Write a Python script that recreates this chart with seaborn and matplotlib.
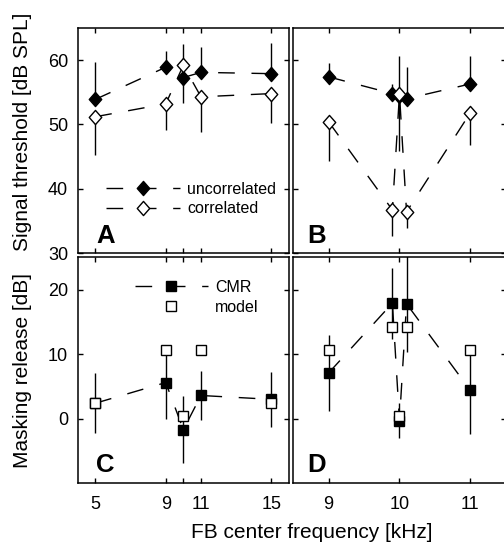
import numpy as np
import seaborn as sns
import matplotlib.pyplot as plt
from matplotlib.path import Path

# FB center frequencies [kHz]
freqs_wide = [5, 9, 10, 11, 15]       # panels A, C
freqs_narrow = [9, 9.9, 10, 10.1, 11]  # panels B, D

# signal thresholds [dB SPL], one-sided error bars (lo / hi)
uncorr_a = [53.9, 58.9, 57.3, 58.1, 57.9]
uncorr_a_lo = [0, 0, 4.0, 0, 0]
uncorr_a_hi = [5.8, 2.6, 0, 3.9, 4.8]
corr_a = [51.2, 53.2, 59.2, 54.3, 54.8]
corr_a_lo = [5.95, 4.0, 0, 5.5, 4.6]
corr_a_hi = [0, 0, 3.3, 0, 0]

uncorr_b = [57.4, 54.8, 54.4, 54.0, 56.3]
uncorr_b_lo = [0, 0, 0, 0, 0]
uncorr_b_hi = [2.2, 1.5, 6.3, 4.9, 4.4]
corr_b = [50.4, 36.7, 54.7, 36.4, 51.8]
corr_b_lo = [6.1, 4.1, 8.9, 2.45, 5.0]
corr_b_hi = [0, 0, 0, 0, 0]

# masking release [dB]
cmr_c = [2.4, 5.6, -1.7, 3.6, 3.0]
cmr_c_err = [4.65, 5.7, 5.2, 3.8, 4.3]
model_c = [2.5, 10.6, 0.4, 10.6, 2.4]

cmr_d = [7.1, 17.9, -0.3, 17.8, 4.4]
cmr_d_err = [5.9, 5.5, 2.7, 7.5, 6.8]
model_d = [10.6, 14.2, 0.4, 14.2, 10.6]

sns.set_theme(style="ticks", rc={
    "axes.edgecolor": "black",
    "axes.linewidth": 1.1,
    "text.color": "black",
    "axes.labelcolor": "black",
    "xtick.color": "black",
    "ytick.color": "black",
    "xtick.direction": "in",
    "ytick.direction": "in",
    "xtick.top": True,
    "ytick.right": True,
    "xtick.major.size": 3.6,
    "ytick.major.size": 3.6,
    "xtick.major.width": 1.0,
    "ytick.major.width": 1.0,
    "xtick.major.pad": 9,
    "ytick.major.pad": 7,
    "xtick.labelsize": 13,
    "ytick.labelsize": 13,
    "lines.scale_dashes": False,
})
plt.rcParams["font.family"] = ["Liberation Sans", "DejaVu Sans"]

DASH = (0, (12, 12))
DIAMOND = Path([(0, 1), (0.88, 0), (0, -1), (-0.88, 0), (0, 1)], closed=True)


def draw_series(ax, x, y, lo, hi, marker, ms, face, label=None, line=True, z=3):
    """Error bars, dashed connecting line and markers for one series."""
    x = np.asarray(x)
    y = np.asarray(y)
    if lo is not None:
        ax.vlines(x, y - np.asarray(lo), y + np.asarray(hi), color="black",
                  lw=1.0, zorder=z)
    sns.lineplot(x=x, y=y, ax=ax, color="black", lw=1.0,
                 linestyle=DASH if line else "none",
                 marker=marker, markersize=ms, markerfacecolor=face,
                 markeredgecolor="black", markeredgewidth=1.0,
                 errorbar=None, label=label, zorder=z + 0.5)


fig = plt.figure(figsize=(5.04, 5.44), dpi=100)
ax_a = fig.add_axes([0.1542, 0.5349, 0.4192, 0.4136])
ax_b = fig.add_axes([0.5819, 0.5349, 0.4214, 0.4136])
ax_c = fig.add_axes([0.1542, 0.1116, 0.4192, 0.4154])
ax_d = fig.add_axes([0.5819, 0.1116, 0.4214, 0.4154])

# top row: thresholds
draw_series(ax_a, freqs_wide, uncorr_a, uncorr_a_lo, uncorr_a_hi, DIAMOND, 10.2, "black", "uncorrelated", z=3)
draw_series(ax_a, freqs_wide, corr_a, corr_a_lo, corr_a_hi, DIAMOND, 10.2, "white", "correlated", z=4)
draw_series(ax_b, freqs_narrow, uncorr_b, uncorr_b_lo, uncorr_b_hi, DIAMOND, 10.2, "black", z=3)
draw_series(ax_b, freqs_narrow, corr_b, corr_b_lo, corr_b_hi, DIAMOND, 10.2, "white", z=4)

# bottom row: masking release
draw_series(ax_c, freqs_wide, cmr_c, cmr_c_err, cmr_c_err, "s", 7.3, "black", "CMR", z=3)
draw_series(ax_c, freqs_wide, model_c, None, None, "s", 7.3, "white", "model", line=False, z=4)
draw_series(ax_d, freqs_narrow, cmr_d, cmr_d_err, cmr_d_err, "s", 7.3, "black", z=3)
draw_series(ax_d, freqs_narrow, model_d, None, None, "s", 7.3, "white", line=False, z=4)

for ax in (ax_a, ax_b):
    ax.set_ylim(30, 65)
    ax.set_yticks([30, 40, 50, 60])
for ax in (ax_c, ax_d):
    ax.set_ylim(-10, 25)
    ax.set_yticks([0, 10, 20])
for ax in (ax_a, ax_c):
    ax.set_xlim(4, 16)
    ax.set_xticks(freqs_wide)
    ax.set_xticklabels(["5", "9", "", "11", "15"])
for ax in (ax_b, ax_d):
    ax.set_xlim(8.5, 11.5)
    ax.set_xticks([9, 10, 11])
    ax.tick_params(labelleft=False)
for ax in (ax_a, ax_b):
    ax.tick_params(labelbottom=False)
for ax in (ax_a, ax_b, ax_c, ax_d):
    ax.set_xlabel("")
    ax.set_ylabel("")
    for s in ax.spines.values():
        s.set_visible(True)

leg_kw = dict(frameon=False, fontsize=11.5, handlelength=4.6, handletextpad=0.45,
              borderpad=0, borderaxespad=0, labelspacing=0.3, numpoints=1)
ax_a.legend(loc="center left", bbox_to_anchor=(0.136, 0.24), **leg_kw)
ax_c.legend(loc="center left", bbox_to_anchor=(0.27, 0.823), **leg_kw)

for ax, letter, xpos, ypos in [(ax_a, "A", 0.088, 0.043), (ax_b, "B", 0.066, 0.043),
                               (ax_c, "C", 0.088, 0.05), (ax_d, "D", 0.064, 0.05)]:
    ax.text(xpos, ypos, letter, transform=ax.transAxes, fontsize=18.5,
            fontweight="bold", ha="left", va="baseline")

fig.text(23 / 504, 1 - 132 / 544, "Signal threshold [dB SPL]", rotation=90,
         ha="center", va="center", fontsize=15)
fig.text(23 / 504, 1 - 370 / 544, "Masking release [dB]", rotation=90,
         ha="center", va="center", fontsize=15)
fig.text(312 / 504, 1 - 533 / 544, "FB center frequency [kHz]",
         ha="center", va="center", fontsize=15)

fig.savefig("out.png", dpi=100)
